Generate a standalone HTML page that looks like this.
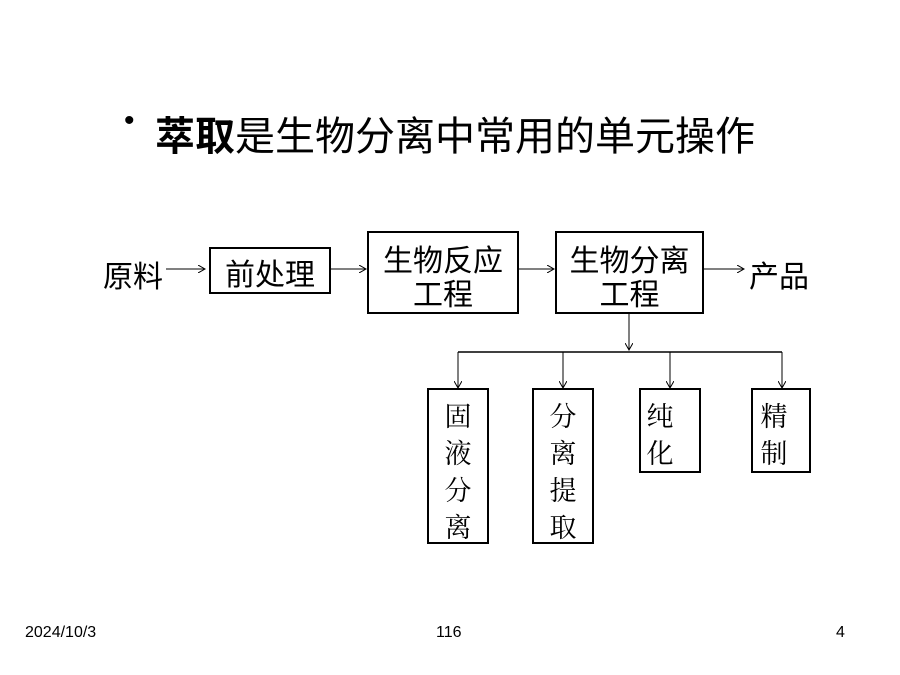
<!DOCTYPE html>
<html><head><meta charset="utf-8"><style>
body{margin:0;width:900px;height:675px;background:#fff;position:relative;overflow:hidden;font-family:"Liberation Sans","Noto Sans CJK SC",sans-serif;color:#000}
.a{position:absolute;white-space:nowrap}
.b{position:absolute;border:2px solid #000;box-sizing:border-box}
.t{position:absolute;font-size:30px;line-height:34px;text-align:center}
.v{position:absolute;font-family:"Liberation Serif","Noto Serif CJK SC",serif;font-size:27px;line-height:37px;width:60px;text-align:center}
.f{position:absolute;font-size:16px;top:624px}
</style></head><body>
<div class="a" style="left:124px;top:104px;font-size:30px">•</div>
<div class="a" style="left:155px;top:114px;font-size:40px;letter-spacing:0;line-height:46px"><b>萃取</b>是生物分离中常用的单元操作</div>
<svg width="900" height="675" style="position:absolute;left:0;top:0">
<defs><marker id="m" markerWidth="8" markerHeight="8" refX="7" refY="4" orient="auto" markerUnits="userSpaceOnUse"><path d="M0,0 L7,4 L0,8" fill="none" stroke="#000" stroke-width="1"/></marker></defs>
<g stroke="#000" stroke-width="1" fill="none">
<line x1="166" y1="269" x2="205" y2="269" marker-end="url(#m)"/>
<line x1="331" y1="269" x2="366" y2="269" marker-end="url(#m)"/>
<line x1="519" y1="269" x2="554" y2="269" marker-end="url(#m)"/>
<line x1="704" y1="269" x2="744" y2="269" marker-end="url(#m)"/>
<line x1="629" y1="313" x2="629" y2="350" marker-end="url(#m)"/>
<line x1="458" y1="352" x2="782" y2="352" stroke-width="1.5"/>
<line x1="458" y1="352" x2="458" y2="388" marker-end="url(#m)"/>
<line x1="563" y1="352" x2="563" y2="388" marker-end="url(#m)"/>
<line x1="670" y1="352" x2="670" y2="388" marker-end="url(#m)"/>
<line x1="782" y1="352" x2="782" y2="388" marker-end="url(#m)"/>
</g></svg>
<div class="t" style="left:103px;top:261px">原料</div>
<div class="b" style="left:209px;top:247px;width:122px;height:47px"></div>
<div class="t" style="left:209px;top:259px;width:122px">前处理</div>
<div class="b" style="left:367px;top:231px;width:152px;height:83px"></div>
<div class="t" style="left:367px;top:245px;width:152px">生物反应<br>工程</div>
<div class="b" style="left:555px;top:231px;width:149px;height:83px"></div>
<div class="t" style="left:555px;top:245px;width:149px">生物分离<br>工程</div>
<div class="t" style="left:749px;top:261px">产品</div>
<div class="b" style="left:427px;top:388px;width:62px;height:156px"></div>
<div class="v" style="left:428px;top:399px">固<br>液<br>分<br>离</div>
<div class="b" style="left:532px;top:388px;width:62px;height:156px"></div>
<div class="v" style="left:533px;top:399px">分<br>离<br>提<br>取</div>
<div class="b" style="left:639px;top:388px;width:62px;height:85px"></div>
<div class="v" style="left:630px;top:399px">纯<br>化</div>
<div class="b" style="left:751px;top:388px;width:60px;height:85px"></div>
<div class="v" style="left:744px;top:399px">精<br>制</div>
<div class="f" style="left:25px">2024/10/3</div>
<div class="f" style="left:436px">116</div>
<div class="f" style="left:836px">4</div>
</body></html>
